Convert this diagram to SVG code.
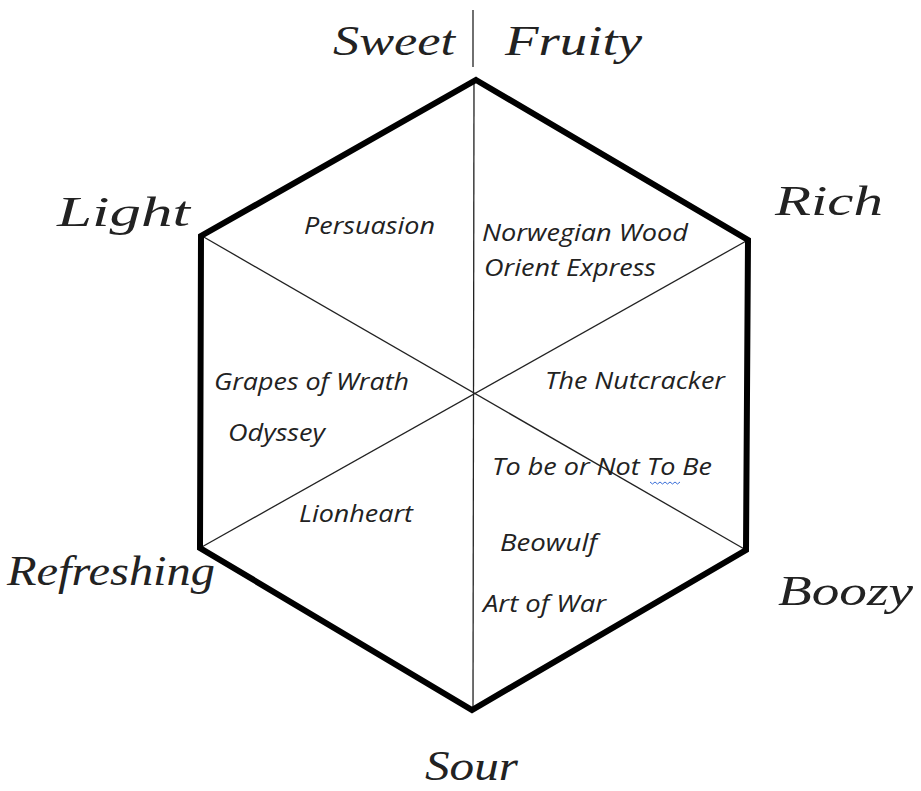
<svg xmlns="http://www.w3.org/2000/svg" width="921" height="791" viewBox="0 0 921 791">
<style>
.hex{fill:none;stroke:#000;stroke-width:6;stroke-linejoin:miter}
.ln{stroke:#222;stroke-width:1.3;fill:none}
.script{font-family:"Liberation Serif","DejaVu Serif",serif;font-style:italic;font-size:42px;fill:#222}
.book{font-family:"Open Sans","Noto Sans",sans-serif;font-style:italic;font-size:24px;fill:#222}
</style>
<rect width="921" height="791" fill="#fff"/>
<g id="connectors">
<line class="ln" x1="473" y1="10" x2="473" y2="67"/>
<line class="ln" x1="474" y1="82" x2="473" y2="710"/>
<line class="ln" x1="202" y1="236" x2="746" y2="550"/>
<line class="ln" x1="748" y1="240" x2="200" y2="548"/>
</g>
<g id="hexagon">
<polygon class="hex" points="476,80 748,240 746,550 472,710 200,548 201,236"/>
</g>
<g id="labels">
<text id="sweet" class="script" x="333" y="55" textLength="122" lengthAdjust="spacingAndGlyphs">Sweet</text>
<text id="fruity" class="script" x="505" y="55" textLength="137" lengthAdjust="spacingAndGlyphs">Fruity</text>
<text id="light" class="script" x="57" y="226" textLength="133" lengthAdjust="spacingAndGlyphs">Light</text>
<text id="rich" class="script" x="775" y="215" textLength="108" lengthAdjust="spacingAndGlyphs">Rich</text>
<text id="refreshing" class="script" x="7" y="585" textLength="208" lengthAdjust="spacingAndGlyphs">Refreshing</text>
<text id="boozy" class="script" x="778" y="605" textLength="135" lengthAdjust="spacingAndGlyphs">Boozy</text>
<text id="sour" class="script" x="425" y="780" textLength="93" lengthAdjust="spacingAndGlyphs">Sour</text>
</g>
<g id="books">
<text class="book" x="304" y="234" textLength="131" lengthAdjust="spacingAndGlyphs">Persuasion</text>
<text class="book" x="482" y="241" textLength="206" lengthAdjust="spacingAndGlyphs">Norwegian Wood</text>
<text class="book" x="484" y="276" textLength="172" lengthAdjust="spacingAndGlyphs">Orient Express</text>
<text class="book" x="545" y="389" textLength="180" lengthAdjust="spacingAndGlyphs">The Nutcracker</text>
<text class="book" x="214" y="390" textLength="195" lengthAdjust="spacingAndGlyphs">Grapes of Wrath</text>
<text class="book" x="228" y="441" textLength="97" lengthAdjust="spacingAndGlyphs">Odyssey</text>
<text class="book" x="492" y="475" textLength="220" lengthAdjust="spacingAndGlyphs">To be or Not To Be</text>
<text class="book" x="299" y="522" textLength="114" lengthAdjust="spacingAndGlyphs">Lionheart</text>
<text class="book" x="500" y="551" textLength="97" lengthAdjust="spacingAndGlyphs">Beowulf</text>
<text class="book" x="483" y="612" textLength="123" lengthAdjust="spacingAndGlyphs">Art of War</text>
<path d="M650,482 l2.5,2 l2.5,-2 l2.5,2 l2.5,-2 l2.5,2 l2.5,-2 l2.5,2 l2.5,-2 l2.5,2 l2.5,-2 l2.5,2 l2.5,-2" fill="none" stroke="#3b6fd8" stroke-width="1"/>
</g>
</svg>
